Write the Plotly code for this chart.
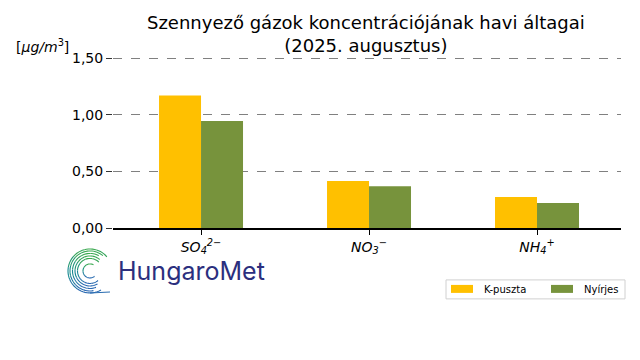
import math
import plotly.graph_objects as go

categories = ["<i>SO<sub>4</sub><sup>2−</sup></i>", "<i>NO<sub>3</sub><sup>−</sup></i>", "<i>NH<sub>4</sub><sup>+</sup></i>"]
k_puszta = [1.17, 0.415, 0.275]
nyirjes = [0.945, 0.37, 0.22]
series_names = ["K-puszta", "Nyírjes"]
series_colors = ["#FFC000", "#77933C"]
y_ticks = [0, 0.5, 1.0, 1.5]

FONT = "DejaVu Sans"
fig = go.Figure()
fig.add_bar(x=categories, y=k_puszta, name=series_names[0], marker_color=series_colors[0],
            marker_line_width=0, showlegend=False)
fig.add_bar(x=categories, y=nyirjes, name=series_names[1], marker_color=series_colors[1],
            marker_line_width=0, showlegend=False)

YMAX = 1.52
W, H = 640, 360
L, R, B = 113, 19, 132
ph = 170 * YMAX / 1.5
T = H - B - ph
pw = W - L - R

def px(x):
    return (x - L) / pw
def py(y):
    return (H - B - y) / ph

shapes = []
annotations = []

# logo arcs (decoration)
cx_p, cy_p = px(90), py(271)
def col(t):
    c0 = (44, 105, 180); c1 = (20, 140, 140); c2 = (60, 170, 80)
    if t < 0.5:
        a, b, u = c0, c1, t / 0.5
    else:
        a, b, u = c1, c2, (t - 0.5) / 0.5
    return "rgb(%d,%d,%d)" % tuple(int(a[i] + (b[i] - a[i]) * u) for i in range(3))
for r, a0, a1 in [(22, -60, 40), (20, -80, 50), (17.5, -70, 60), (15, -60, 50), (12.5, -50, 45), (7, -50, 60)]:
    start, end = a1, 360 + a0
    nseg = 8
    for s in range(nseg):
        s0 = start + (end - start) * s / nseg
        s1 = start + (end - start) * (s + 1) / nseg
        pts = []
        for k in range(7):
            ang = math.radians(s0 + (s1 - s0) * k / 6)
            pts.append((r * math.cos(ang), r * math.sin(ang)))
        path = "M " + " L ".join("%.2f,%.2f" % p for p in pts)
        mid = (s0 + s1) / 2
        t = (math.sin(math.radians(mid)) + 1) / 2
        shapes.append(dict(type="path", path=path, xref="paper", yref="paper",
                           xsizemode="pixel", ysizemode="pixel", xanchor=cx_p, yanchor=cy_p,
                           line=dict(color=col(t), width=1.1)))
shapes.append(dict(type="path", path="M 0,-22 L 20,-21", xref="paper", yref="paper",
                   xsizemode="pixel", ysizemode="pixel", xanchor=cx_p, yanchor=cy_p,
                   line=dict(color=col(0.05), width=1.1)))

# manual legend box
lx0, lx1, ly0, ly1 = 446, 625, 280, 299
shapes.append(dict(type="rect", xref="paper", yref="paper", x0=px(lx0), x1=px(lx1), y0=py(ly1), y1=py(ly0),
                   line=dict(color="#d0d0d0", width=1), fillcolor="white", layer="above"))
legend_x = [451, 551]
for i, name in enumerate(series_names):
    x0 = legend_x[i]
    shapes.append(dict(type="rect", xref="paper", yref="paper", x0=px(x0), x1=px(x0 + 22),
                       y0=py(293), y1=py(285), line=dict(width=0), fillcolor=series_colors[i], layer="above"))
    annotations.append(dict(text=name, xref="paper", yref="paper", x=px(x0 + 31), xanchor="left",
                            y=py(289.5), yanchor="middle", showarrow=False, font=dict(size=10)))

annotations += [
    dict(text="Szennyező gázok koncentrációjának havi áltagai<br>(2025. augusztus)", xref="paper", yref="paper",
         x=(366 - L) / pw, xanchor="center", y=py(33.5), yanchor="middle", showarrow=False,
         font=dict(family=FONT, size=18, color="black")),
    dict(text="[<i>μg/m</i><sup>3</sup>]", xref="paper", yref="paper", x=px(14), xanchor="left",
         y=py(46), yanchor="middle", showarrow=False, font=dict(size=14)),
    dict(text="HungaroMet", xref="paper", yref="paper", x=px(116), xanchor="left",
         y=py(271), yanchor="middle", showarrow=False,
         font=dict(family="Inter", size=25, color="#2B2F7E")),
]

fig.update_layout(
    width=W, height=H,
    margin=dict(l=L, r=R, t=T, b=B),
    paper_bgcolor="white", plot_bgcolor="white",
    separators=",.",
    barmode="group", bargap=0.5, bargroupgap=0,
    font=dict(family=FONT, size=14, color="black"),
    showlegend=False,
    xaxis=dict(range=[-0.524, 2.5], showgrid=False, showline=True, linecolor="black", linewidth=1.5,
               ticks="outside", ticklen=5, tickcolor="black", tickfont=dict(size=14), zeroline=False),
    yaxis=dict(range=[0, YMAX], tickvals=y_ticks, tickformat=".2f", showgrid=True,
               gridcolor="#808080", griddash="dash", gridwidth=1, showline=False, zeroline=False,
               ticks="outside", ticklen=6, tickcolor="#333333", tickfont=dict(size=14)),
    shapes=shapes,
    annotations=annotations,
)
fig.write_html("out.html")
